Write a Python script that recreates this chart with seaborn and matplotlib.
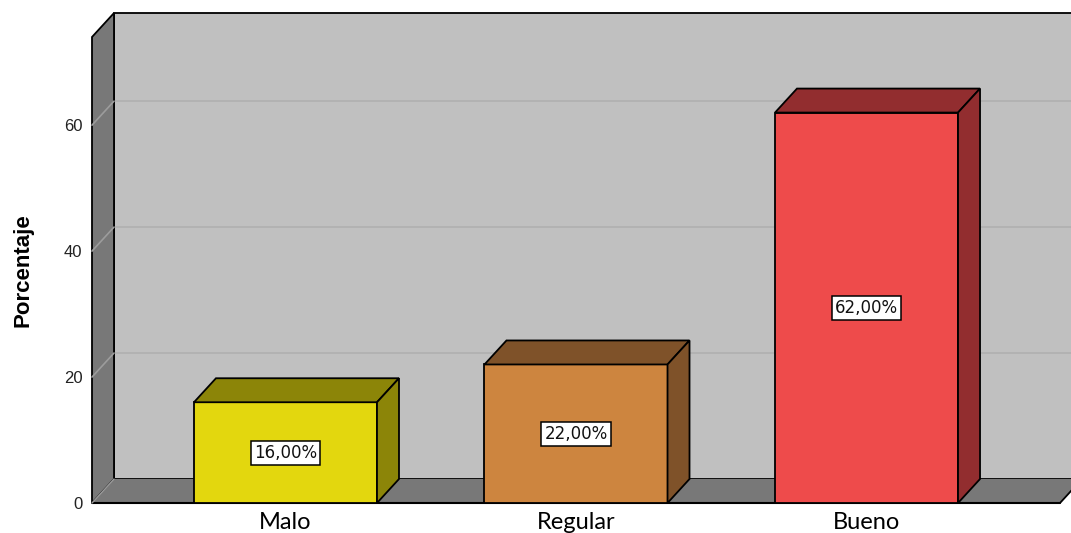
import numpy as np
import matplotlib
matplotlib.use("Agg")
import matplotlib.pyplot as plt
from matplotlib.patches import Polygon
import seaborn as sns

# Data
categorias = ["Malo", "Regular", "Bueno"]
porcentajes = [16.0, 22.0, 62.0]
etiquetas = ["16,00%", "22,00%", "62,00%"]
marcas_y = [0, 20, 40, 60]

# Colours: front face and shaded top/side of each bar
color_frente = ["#e3d70e", "#cd853f", "#ee4b4b"]
color_sombra = ["#8c8508", "#7f5229", "#922d2f"]
color_pared = "#c0c0c0"
color_suelo = "#787878"

sns.set_theme(style="white")
plt.rcParams["font.family"] = ["Liberation Sans", "DejaVu Sans"]

W, H = 1071, 533
fig = plt.figure(figsize=(W / 100, H / 100), dpi=100)
fig.patch.set_facecolor("white")
ax = fig.add_axes([92 / W, 30 / H, 968 / W, 466 / H])

sns.barplot(x=categorias, y=porcentajes, hue=categorias, palette=color_frente,
            saturation=1, width=0.63, edgecolor="black", linewidth=1.3,
            legend=False, ax=ax, zorder=3)

ax.set_xlim(-0.666, 2.666)
ax.set_ylim(0, 74)
ax.patch.set_visible(False)
for s in ax.spines.values():
    s.set_visible(False)

# depth of the 3D box, in pixels
DEPTH = np.array([22.0, 24.0])


def fondo(x, y):
    """Data point pushed back by the box depth."""
    px = ax.transData.transform((x, y))
    return tuple(ax.transData.inverted().transform(px + DEPTH))


x0, x1 = ax.get_xlim()
y0, y1 = ax.get_ylim()

# back wall
ax.add_patch(Polygon([fondo(x0, y0), fondo(x1, y0), fondo(x1, y1), fondo(x0, y1)],
                     closed=True, fc=color_pared, ec="black", lw=1.3,
                     zorder=0, clip_on=False))
# left wall
ax.add_patch(Polygon([(x0, y0), (x0, y1), fondo(x0, y1), fondo(x0, y0)],
                     closed=True, fc=color_suelo, ec="black", lw=1.3,
                     zorder=1, clip_on=False))
# floor
ax.add_patch(Polygon([(x0, y0), (x1, y0), fondo(x1, y0), fondo(x0, y0)],
                     closed=True, fc=color_suelo, ec="none",
                     zorder=1, clip_on=False))
ax.plot([x0, x1], [y0, y0], color="black", lw=1.5, zorder=2, clip_on=False)
ax.plot([x1, fondo(x1, y0)[0]], [y0, fondo(x1, y0)[1]], color="black", lw=1.3,
        zorder=2, clip_on=False)
ax.plot([x0, fondo(x0, y0)[0]], [y0, fondo(x0, y0)[1]], color="#9a9a9a", lw=1,
        zorder=2, clip_on=False)

# grid lines on the back and left walls
for t in marcas_y[1:]:
    bx0, by = fondo(x0, t)
    bx1, _ = fondo(x1, t)
    ax.plot([bx0, bx1], [by, by], color="#b0b0b0", lw=1.2, zorder=0.5, clip_on=False)
    ax.plot([x0, bx0], [t, by], color="#9c9c9c", lw=1.2, zorder=1.5, clip_on=False)

# top and side faces of each bar, plus value labels
for cont, sombra, texto in zip(ax.containers, color_sombra, etiquetas):
    for p in cont:
        x, w, h = p.get_x(), p.get_width(), p.get_height()
        ax.add_patch(Polygon([(x, h), (x + w, h), fondo(x + w, h), fondo(x, h)],
                             closed=True, fc=sombra, ec="black", lw=1.3,
                             zorder=3, clip_on=False))
        ax.add_patch(Polygon([(x + w, 0), (x + w, h), fondo(x + w, h), fondo(x + w, 0)],
                             closed=True, fc=sombra, ec="black", lw=1.3,
                             zorder=3, clip_on=False))
        ax.text(x + w / 2, h / 2, texto, ha="center", va="center", fontsize=12,
                family=["DejaVu Sans"], color="#111111", zorder=5,
                bbox=dict(boxstyle="square,pad=0.18", fc="white", ec="black", lw=1.1))

ax.set_yticks(marcas_y)
ax.set_yticklabels([str(v) for v in marcas_y])
ax.tick_params(axis="y", length=0, pad=7, labelsize=12, labelcolor="#222222")
ax.set_xticks(range(len(categorias)))
ax.set_xticklabels(categorias, family=["Lato", "DejaVu Sans"], fontsize=17, color="black")
ax.tick_params(axis="x", length=0, pad=6.5)
ax.set_xlabel("")
ax.set_ylabel("")

fig.text(23 / W, 1 - 270 / H, "Porcentaje", rotation=90, ha="center", va="center",
         fontsize=16, fontweight="bold", color="black")

fig.savefig("out.png", dpi=100)
